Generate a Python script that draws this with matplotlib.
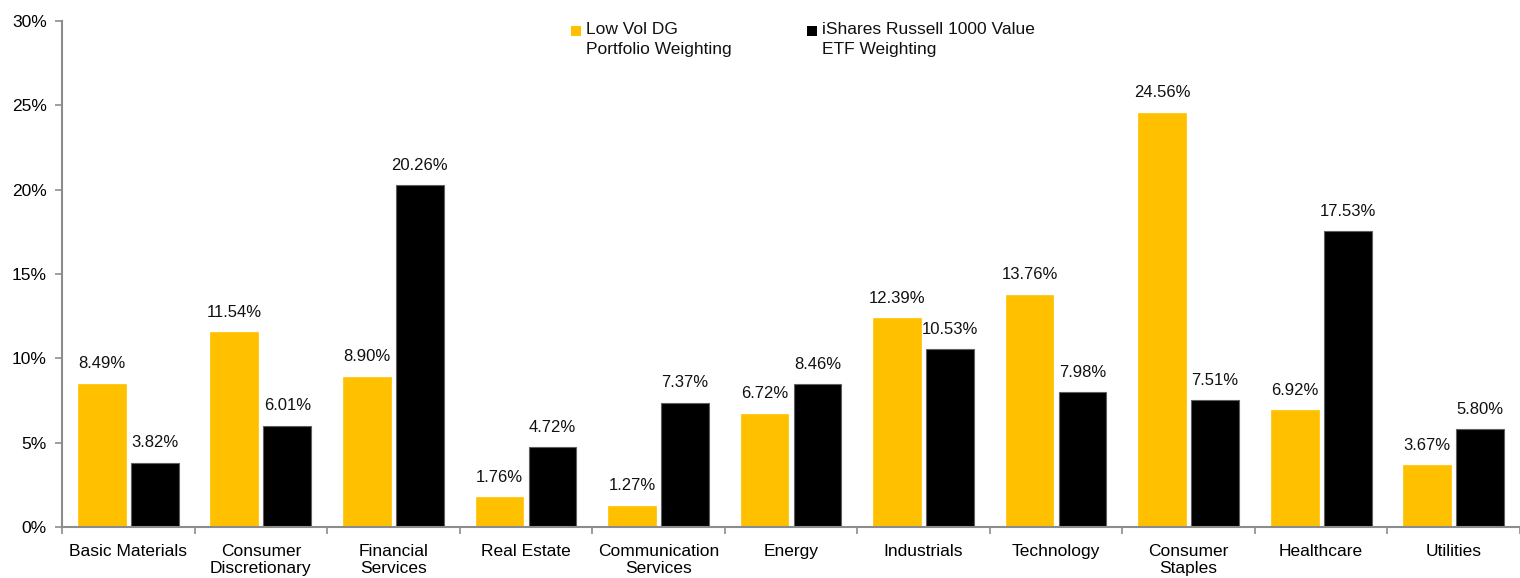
import numpy as np
import matplotlib.pyplot as plt
from matplotlib.patches import Rectangle
from matplotlib.ticker import FixedLocator, PercentFormatter

plt.rcParams['font.family'] = ['Liberation Sans', 'DejaVu Sans']

sectors = ['Basic Materials', 'Consumer\nDiscretionary', 'Financial\nServices', 'Real Estate',
           'Communication\nServices', 'Energy', 'Industrials', 'Technology',
           'Consumer\nStaples', 'Healthcare', 'Utilities']
low_vol = [8.49, 11.54, 8.90, 1.76, 1.27, 6.72, 12.39, 13.76, 24.56, 6.92, 3.67]
iwd = [3.82, 6.01, 20.26, 4.72, 7.37, 8.46, 10.53, 7.98, 7.51, 17.53, 5.80]
series_names = ['Low Vol DG\nPortfolio Weighting', 'iShares Russell 1000 Value\nETF Weighting']

YELLOW = '#FFC000'
GREY = '#8c8c8c'
W, H = 1520, 578

fig = plt.figure(figsize=(W / 100, H / 100), dpi=100)
ax = fig.add_axes([0.0408, 0.088, 0.9592, 0.876])

x = np.arange(len(sectors))
w = 0.36
b1 = ax.bar(x - 0.2, low_vol, w, color=YELLOW, edgecolor=YELLOW, linewidth=0.5)
b2 = ax.bar(x + 0.2, iwd, w, color='black', edgecolor='#606060', linewidth=0.8)

for bars, vals in ((b1, low_vol), (b2, iwd)):
    for r, v in zip(bars, vals):
        ax.annotate(f'{v:.2f}%', (r.get_x() + r.get_width() / 2, v),
                    xytext=(0, 9), textcoords='offset points',
                    ha='center', va='bottom', fontsize=12, color='#111111')

ax.set_xlim(-0.5, len(sectors) - 0.5)
ax.set_ylim(0, 30)
ax.set_yticks(range(0, 31, 5))
ax.yaxis.set_major_formatter(PercentFormatter(decimals=0))
ax.set_xticks(x)
ax.set_xticklabels(sectors, fontsize=12.5, linespacing=1.2)
ax.xaxis.set_minor_locator(FixedLocator(np.arange(-0.5, len(sectors), 1.0)))
ax.tick_params(axis='x', which='major', length=0, pad=12)
ax.tick_params(axis='x', which='minor', length=5, color=GREY, width=1.2)
ax.tick_params(axis='y', length=5, color=GREY, width=1.2, labelsize=12.5, pad=6)

for s in ('top', 'right'):
    ax.spines[s].set_visible(False)
for s in ('left', 'bottom'):
    ax.spines[s].set_color(GREY)
    ax.spines[s].set_linewidth(1.5)

# legend: square next to the first line of each two-line label
for px, col, name in ((571, YELLOW, series_names[0]), (807, 'black', series_names[1])):
    fig.patches.append(Rectangle((px / W, 1 - 36 / H), 10 / W, 10 / H,
                                 transform=fig.transFigure, facecolor=col))
    fig.text((px + 15) / W, 1 - 22 / H, name, fontsize=12.5, va='top', ha='left',
             linespacing=1.4, color='#111111')

fig.savefig('out.png', dpi=100)
